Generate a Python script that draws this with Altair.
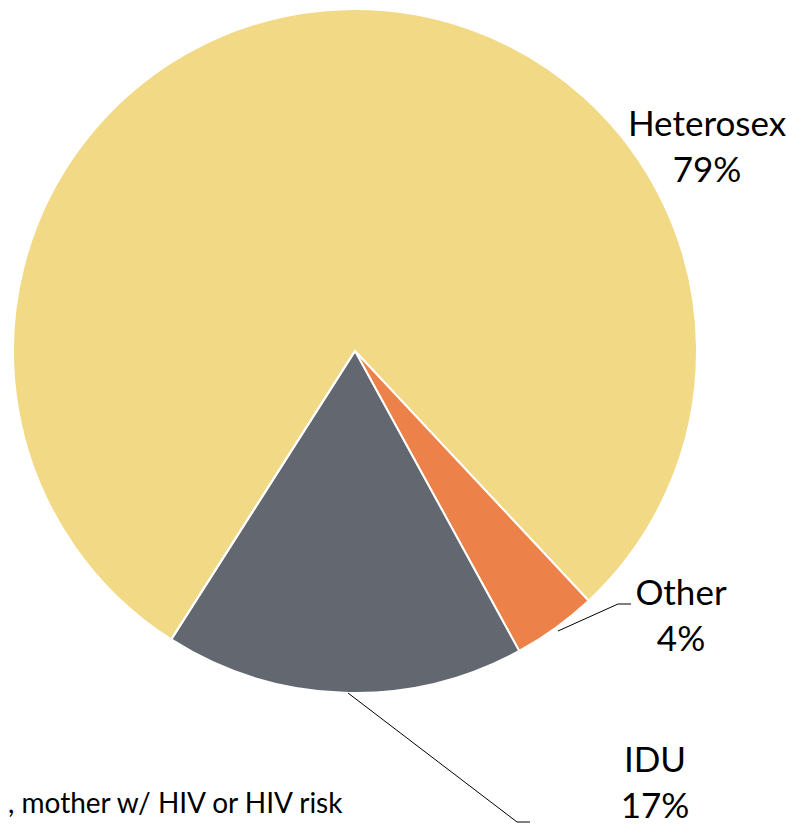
import math
import altair as alt
import pandas as pd

# ---- data ----
categories = ["Heterosex", "Other", "IDU", ", mother w/ HIV or HIV risk"]
values = [79, 4, 17, 0]
colors = ["#F2D986", "#EC8249", "#636870", "#A5A5A5"]

df = pd.DataFrame({"category": categories, "value": values, "order": list(range(len(categories)))})
df["label"] = [f"{c}\n{v}%" for c, v in zip(categories, values)]

# ---- layout ----
W, H = 779, 818
CX, CY, R = 347, 343, 342
start = math.radians(212.5)

FONT = "Lato"

arc = alt.Chart(df).mark_arc(outerRadius=R, stroke="white", strokeWidth=2).encode(
    theta=alt.Theta("value:Q", stack=True,
                    scale=alt.Scale(range=[start, start + 2 * math.pi])),
    color=alt.Color("category:N", scale=alt.Scale(domain=categories, range=colors), legend=None),
    order=alt.Order("order:Q"),
    x=alt.value(CX),
    y=alt.value(CY),
)

label_pos = {
    "Heterosex": dict(x=699, y=128, size=35, lh=46),
    "Other": dict(x=673, y=597, size=35, lh=46),
    "IDU": dict(x=647, y=764, size=35, lh=46),
}

layers = [arc]
for cat, p in label_pos.items():
    layers.append(
        alt.Chart(df).transform_filter(alt.datum.category == cat).mark_text(
            font=FONT, fontSize=p["size"], align="center", baseline="alphabetic",
            lineBreak="\n", lineHeight=p["lh"], color="#000000",
        ).encode(text="label:N", x=alt.value(p["x"]), y=alt.value(p["y"]))
    )

# the small category (label only, as it appears at the left edge)
layers.append(
    alt.Chart(df).transform_filter(alt.datum.value == 0).mark_text(
        font=FONT, fontSize=28, align="left", baseline="alphabetic", color="#000000",
    ).encode(text="category:N", x=alt.value(0), y=alt.value(805))
)

# leader lines
leaders = [
    (550, 623, 610, 596), (610, 596, 623, 596),
    (340, 685, 509, 814), (509, 814, 522, 814),
]
for x1, y1, x2, y2 in leaders:
    layers.append(
        alt.Chart(df.head(1)).mark_rule(color="#000000", strokeWidth=1).encode(
            x=alt.value(x1), y=alt.value(y1), x2=alt.value(x2), y2=alt.value(y2)
        )
    )

chart = alt.layer(*layers).properties(
    width=W, height=H, padding=0,
    autosize=alt.AutoSizeParams(type="none"),
).configure_view(stroke=None)

chart.save("out.html", embed_options={"renderer": "svg", "actions": False})
